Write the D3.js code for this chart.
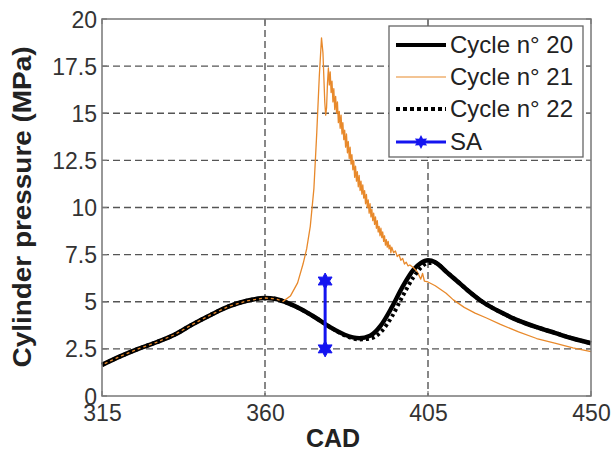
<!DOCTYPE html>
<meta charset="utf-8">
<style>

body {
  margin: 0;
  background: #fff;
  font-family: Arial, "Liberation Sans", Helvetica, sans-serif;
}

.grid line {
  stroke: #555;
  stroke-width: 1.4px;
  stroke-dasharray: 7,4;
}

.tick-label {
  font-size: 23px;
  fill: #333;
}

</style>
<body>
<script src="https://cdn.jsdelivr.net/npm/d3@7"></script>
<script>

// values (CAD in degrees, pressure in MPa)
var xTicks = [315, 360, 405, 450],
    yTicks = [0, 2.5, 5, 7.5, 10, 12.5, 15, 17.5, 20],
    yTickLabels = ["0", "2.5", "5", "7.5", "10", "12.5", "15", "17.5", "20"];

// cycle 20 - motored-like curve with late combustion peak
var cad20 = [315, 320, 325, 330, 335, 340, 345, 350, 355, 360, 363, 366, 370, 374, 378, 382,
             386, 389, 392, 395, 398, 401, 403, 405, 407, 410, 413, 416, 420, 425, 430, 435, 440, 445, 450],
    p20 = [1.65, 2.1, 2.5, 2.85, 3.25, 3.8, 4.3, 4.75, 5.05, 5.2, 5.15, 4.95, 4.6, 4.15, 3.65, 3.25,
           3.07, 3.2, 3.75, 4.7, 5.8, 6.7, 7.05, 7.2, 7.1, 6.6, 6.1, 5.6, 5.0, 4.45, 4.0, 3.65, 3.35, 3.05, 2.8];

// cycle 21 - knocking cycle, thin orange, noisy after the peak
var cad21 = [315, 320, 325, 330, 335, 340, 345, 350, 355, 360, 363, 365, 367, 369, 370.5, 371.5,
             372.5, 373.5, 374.3, 375, 375.6,
             376, 376.25, 376.5, 376.75, 377, 377.25, 377.5, 377.75, 378, 378.25, 378.5, 378.75,
             379, 379.25, 379.5, 379.75, 380, 380.25, 380.5, 380.75, 381, 381.25, 381.5, 381.75,
             382, 382.25, 382.5, 382.75, 383, 383.25, 383.5, 383.75, 384, 384.25, 384.5, 384.75,
             385, 385.25, 385.5, 385.75, 386, 386.25, 386.5, 386.75, 387, 387.25, 387.5, 387.75,
             388, 388.25, 388.5, 388.75, 389, 389.25, 389.5, 389.75, 390, 390.25, 390.5, 390.75,
             391, 391.25, 391.5, 391.75, 392, 392.25, 392.5, 392.75, 393, 393.25, 393.5, 393.75,
             394, 394.25, 394.5, 394.75, 395, 395.5, 396, 396.5, 397, 397.5, 398, 398.5, 399, 399.5,
             400, 401, 402, 403, 403.5, 404, 405, 407, 410, 412, 415, 418, 421, 425, 430, 435, 440, 445, 450],
    p21 = [1.65, 2.1, 2.5, 2.85, 3.25, 3.8, 4.3, 4.75, 5.05, 5.2, 5.15, 5.02, 5.3, 6.0, 7.0, 7.8,
           9.0, 11.0, 14.0, 17.0, 19.0,
           18.2, 16.9, 15.6, 14.9, 15.3, 16.6, 17.4, 16.5, 17.2, 16.1, 16.7, 15.6,
           16.3, 15.2, 15.9, 15.0, 15.6, 14.5, 15.1, 14.2, 14.9, 13.9, 14.5, 13.6,
           14.1, 13.2, 13.9, 12.9, 13.5, 12.6, 13.2, 12.3, 12.8, 12.0, 12.5, 11.6,
           12.2, 11.4, 11.9, 11.1, 11.7, 10.9, 11.4, 10.7, 11.2, 10.5, 10.9, 10.2,
           10.7, 10.0, 10.4, 9.7, 10.2, 9.5, 9.9, 9.3, 9.7, 9.1, 9.5, 8.9,
           9.3, 8.7, 9.0, 8.5, 8.9, 8.4, 8.7, 8.2, 8.5, 8.0, 8.3, 7.9,
           8.2, 7.8, 8.0, 7.6, 7.9, 7.6, 7.7, 7.4, 7.5, 7.2, 7.3, 7.0, 7.1, 6.9,
           6.95, 6.8, 6.6, 6.2, 6.5, 6.1, 6.05, 5.85, 5.45, 5.1, 4.7, 4.4, 4.15, 3.8, 3.4, 3.05, 2.8, 2.55, 2.35];

// cycle 22 - dotted, slightly later rise
var cad22 = [315, 320, 325, 330, 335, 340, 345, 350, 355, 360, 363, 366, 370, 374, 378, 382,
             386, 389, 392, 395, 398, 401, 403, 405, 407, 410, 413, 416, 420, 425, 430, 435, 440, 445, 450],
    p22 = [1.65, 2.1, 2.5, 2.85, 3.25, 3.8, 4.3, 4.75, 5.05, 5.2, 5.15, 4.95, 4.6, 4.15, 3.65, 3.22,
           3.0, 3.05, 3.4, 4.2, 5.3, 6.3, 6.8, 7.05, 7.05, 6.6, 6.1, 5.6, 5.0, 4.45, 4.0, 3.65, 3.35, 3.05, 2.8];

// spark advance marker
var saCad = [376.6, 376.6],
    saP = [2.5, 6.1];

var legendLabels = ["Cycle n\u00b0 20", "Cycle n\u00b0 21", "Cycle n\u00b0 22", "SA"];

var width = 613,
    height = 455,
    pLeft = 102, pRight = 591, pTop = 19, pBottom = 396;

var x = d3.scaleLinear().domain([315, 450]).range([pLeft, pRight]),
    y = d3.scaleLinear().domain([0, 20]).range([pBottom, pTop]);

var svg = d3.select("body").append("svg")
    .attr("width", width)
    .attr("height", height);

// grid
var grid = svg.append("g").attr("class", "grid");
grid.selectAll(".gy")
    .data(yTicks.slice(1, -1))
  .enter().append("line")
    .attr("x1", pLeft).attr("x2", pRight)
    .attr("y1", function(d) { return y(d); })
    .attr("y2", function(d) { return y(d); });
grid.selectAll(".gx")
    .data(xTicks.slice(1, -1))
  .enter().append("line")
    .attr("y1", pTop).attr("y2", pBottom)
    .attr("x1", function(d) { return x(d); })
    .attr("x2", function(d) { return x(d); });

// axes (labels only, box drawn separately)
var yAxis = svg.append("g")
    .attr("transform", "translate(" + (pLeft - 5) + ",0)")
    .call(d3.axisLeft(y).tickValues(yTicks).tickSize(0).tickPadding(0)
      .tickFormat(function(d, i) { return yTickLabels[i]; }));
yAxis.select(".domain").remove();
yAxis.selectAll("text")
    .attr("class", "tick-label")
    .attr("dy", "0.35em");
yAxis.attr("font-family", null).attr("font-size", null);

var xAxis = svg.append("g")
    .attr("transform", "translate(0," + (pBottom + 25) + ")")
    .call(d3.axisBottom(x).tickValues(xTicks).tickSize(0).tickPadding(0)
      .tickFormat(d3.format("d")));
xAxis.select(".domain").remove();
xAxis.selectAll("text")
    .attr("class", "tick-label")
    .attr("dy", 0);
xAxis.attr("font-family", null).attr("font-size", null);

// small inside ticks like matlab
var tickLen = 5;
var tickG = svg.append("g")
    .attr("stroke", "#777")
    .attr("stroke-width", 1.2);
tickG.selectAll(".tl")
    .data(yTicks)
  .enter().append("line")
    .attr("x1", pLeft).attr("x2", pLeft + tickLen)
    .attr("y1", function(d) { return y(d); }).attr("y2", function(d) { return y(d); });
tickG.selectAll(".tr")
    .data(yTicks)
  .enter().append("line")
    .attr("x1", pRight).attr("x2", pRight - tickLen)
    .attr("y1", function(d) { return y(d); }).attr("y2", function(d) { return y(d); });
tickG.selectAll(".tb")
    .data(xTicks)
  .enter().append("line")
    .attr("y1", pBottom).attr("y2", pBottom - tickLen)
    .attr("x1", function(d) { return x(d); }).attr("x2", function(d) { return x(d); });
tickG.selectAll(".tt")
    .data(xTicks)
  .enter().append("line")
    .attr("y1", pTop).attr("y2", pTop + tickLen)
    .attr("x1", function(d) { return x(d); }).attr("x2", function(d) { return x(d); });

// curves
var line = d3.line()
    .x(function(d) { return x(d[0]); })
    .y(function(d) { return y(d[1]); });
var lineSmooth = d3.line()
    .x(function(d) { return x(d[0]); })
    .y(function(d) { return y(d[1]); })
    .curve(d3.curveMonotoneX);

var plot = svg.append("g");

plot.append("path")
    .datum(d3.zip(cad20, p20))
    .attr("d", lineSmooth)
    .attr("fill", "none")
    .attr("stroke", "#000")
    .attr("stroke-width", 4.5);

plot.append("path")
    .datum(d3.zip(cad21, p21))
    .attr("d", line)
    .attr("fill", "none")
    .attr("stroke", "#E8892B")
    .attr("stroke-width", 1.3)
    .attr("stroke-linejoin", "round");

plot.append("path")
    .datum(d3.zip(cad22, p22))
    .attr("d", lineSmooth)
    .attr("fill", "none")
    .attr("stroke", "#000")
    .attr("stroke-width", 4)
    .attr("stroke-dasharray", "3,3");

// six point star, like matlab's hexagram marker
function hexagram(r) {
  var pts = [];
  for (var i = 0; i < 12; i++) {
    var a = -Math.PI / 2 + i * Math.PI / 6,
        rr = i % 2 === 0 ? r : r * 0.55;
    pts.push([rr * Math.cos(a), rr * Math.sin(a)]);
  }
  return "M" + pts.join("L") + "Z";
}

var sa = d3.zip(saCad, saP);
plot.append("path")
    .datum(sa)
    .attr("d", line)
    .attr("fill", "none")
    .attr("stroke", "#1414F0")
    .attr("stroke-width", 3);
plot.selectAll(".sa-mark")
    .data(sa)
  .enter().append("path")
    .attr("class", "sa-mark")
    .attr("transform", function(d) { return "translate(" + x(d[0]) + "," + y(d[1]) + ")"; })
    .attr("d", hexagram(8))
    .attr("fill", "#1414F0")
    .attr("stroke", "#1414F0")
    .attr("stroke-width", 1);

// box
svg.append("rect")
    .attr("x", pLeft).attr("y", pTop)
    .attr("width", pRight - pLeft).attr("height", pBottom - pTop)
    .attr("fill", "none")
    .attr("stroke", "#777")
    .attr("stroke-width", 1.5);

// legend
var legend = svg.append("g");
legend.append("rect")
    .attr("x", 389).attr("y", 26)
    .attr("width", 194).attr("height", 131)
    .attr("fill", "#fff")
    .attr("stroke", "#666")
    .attr("stroke-width", 1.3);

var rowY = [45, 77, 109, 142],
    styles = [
      {stroke: "#000", width: 4, dash: null},
      {stroke: "#E8892B", width: 1.2, dash: null},
      {stroke: "#000", width: 4, dash: "4,3"},
      {stroke: "#1414F0", width: 3, dash: null}
    ];

var rows = legend.selectAll(".row")
    .data(legendLabels)
  .enter().append("g")
    .attr("transform", function(d, i) { return "translate(0," + rowY[i] + ")"; });

rows.append("line")
    .attr("x1", 396).attr("x2", 446)
    .attr("stroke", function(d, i) { return styles[i].stroke; })
    .attr("stroke-width", function(d, i) { return styles[i].width; })
    .attr("stroke-dasharray", function(d, i) { return styles[i].dash; });

rows.filter(function(d, i) { return i === 3; })
  .append("path")
    .attr("transform", "translate(421,0)")
    .attr("d", hexagram(7))
    .attr("fill", "#1414F0");

rows.append("text")
    .attr("x", 450)
    .attr("dy", "0.35em")
    .style("font-size", "24px")
    .style("fill", "#222")
    .text(function(d) { return d; });

// axis titles
svg.append("text")
    .attr("x", 333)
    .attr("y", 447)
    .attr("text-anchor", "middle")
    .style("font-size", "25px")
    .style("font-weight", "bold")
    .style("fill", "#222")
    .text("CAD");

svg.append("text")
    .attr("transform", "translate(31,207) rotate(-90)")
    .attr("text-anchor", "middle")
    .attr("textLength", 321)
    .attr("lengthAdjust", "spacingAndGlyphs")
    .style("font-size", "26px")
    .style("font-weight", "bold")
    .style("fill", "#222")
    .text("Cylinder pressure (MPa)");

</script>
